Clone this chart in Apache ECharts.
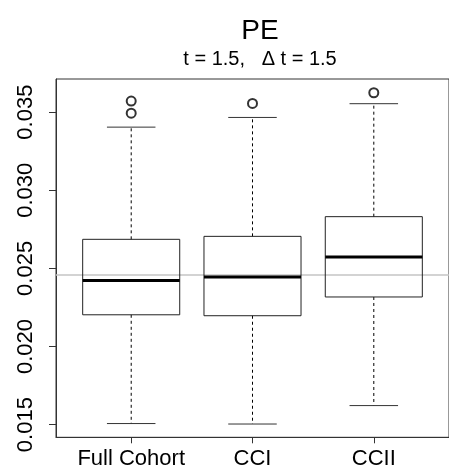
<!DOCTYPE html>
<html><head><meta charset="utf-8">
<script src="https://cdn.jsdelivr.net/npm/echarts@6/dist/echarts.min.js"></script>
<style>html,body{margin:0;padding:0;background:#fff}#c{width:449px;height:474px}</style>
</head><body><div id="c"></div>
<script>
const categories = ['Full Cohort', 'CCI', 'CCII'];
const lowerWhisker = [0.01507, 0.01504, 0.01622];
const q1 = [0.02203, 0.02197, 0.02317];
const median = [0.02423, 0.02445, 0.02573];
const q3 = [0.02686, 0.02705, 0.02831];
const upperWhisker = [0.03404, 0.03466, 0.03554];
const outlierCat = [0, 0, 1, 2];
const outlierVal = [0.03571, 0.03493, 0.03556, 0.03624];
const yTicks = [0.015, 0.020, 0.025, 0.030, 0.035];
const refLine = 0.02458;
const titleText = 'PE';
const subtitleText = 't = 1.5,   \u0394 t = 1.5';

const FONT = "'Liberation Sans', Arial, Helvetica, sans-serif";
const X_MIN = -0.62, X_MAX = 2.62;
const boxData = categories.map((c, i) => [i, lowerWhisker[i], q1[i], median[i], q3[i], upperWhisker[i]]);
const outData = outlierCat.map((c, i) => [c, outlierVal[i]]);

const chart = echarts.init(document.getElementById('c'));
chart.setOption({
  animation: false,
  backgroundColor: '#fff',
  title: [
    {text: titleText, left: 255, top: 12, textAlign: 'center',
     textStyle: {fontFamily: FONT, fontSize: 28, fontWeight: 'normal', color: '#000'}},
    {text: subtitleText, left: 255, top: 44, textAlign: 'center',
     textStyle: {fontFamily: FONT, fontSize: 20, fontWeight: 'normal', color: '#000'}}
  ],
  grid: {left: 56, top: 79, bottom: 36.7, right: -5.5, show: true, borderColor: '#333', borderWidth: 1, backgroundColor: 'transparent'},
  xAxis: {
    type: 'value', min: X_MIN, max: X_MAX,
    splitLine: {show: false},
    axisLine: {show: true, onZero: false, lineStyle: {color: '#333'}},
    axisTick: {show: true, length: 6, customValues: [0, 1, 2], lineStyle: {color: '#333'}},
    axisLabel: {customValues: [0, 1, 2], formatter: v => categories[Math.round(v)] || '',
      margin: 11, fontFamily: FONT, fontSize: 22, color: '#000'}
  },
  yAxis: {
    type: 'value', min: 0.01419, max: 0.03712,
    splitLine: {show: false},
    axisLine: {show: true, onZero: false, lineStyle: {color: '#333'}},
    axisTick: {show: true, length: 7, customValues: yTicks, lineStyle: {color: '#333'}},
    axisLabel: {customValues: yTicks, formatter: v => v.toFixed(3), rotate: 90,
      margin: 19, fontFamily: FONT, fontSize: 22, color: '#000'}
  },
  series: [
    {
      type: 'line', z: 1, silent: true, symbol: 'none',
      data: [[X_MIN, refLine], [X_MAX, refLine]],
      lineStyle: {color: '#c4c4c4', width: 1.5}
    },
    {
      type: 'custom', z: 2,
      data: boxData,
      renderItem: function (params, api) {
        const i = api.value(0);
        const cx = api.coord([i, api.value(3)])[0];
        const x0 = api.coord([i - 0.4, api.value(3)])[0];
        const x1 = api.coord([i + 0.4, api.value(3)])[0];
        const s0 = api.coord([i - 0.2, api.value(3)])[0];
        const s1 = api.coord([i + 0.2, api.value(3)])[0];
        const yLW = api.coord([i, api.value(1)])[1];
        const yQ1 = api.coord([i, api.value(2)])[1];
        const yMed = api.coord([i, api.value(3)])[1];
        const yQ3 = api.coord([i, api.value(4)])[1];
        const yUW = api.coord([i, api.value(5)])[1];
        const dash = {stroke: '#000', lineWidth: 1, lineDash: [3, 3], fill: null};
        const solid = {stroke: '#333', lineWidth: 1, fill: null};
        return {type: 'group', children: [
          {type: 'line', shape: {x1: cx, y1: yQ3, x2: cx, y2: yUW}, style: dash},
          {type: 'line', shape: {x1: cx, y1: yQ1, x2: cx, y2: yLW}, style: dash},
          {type: 'line', shape: {x1: s0, y1: yUW, x2: s1, y2: yUW}, style: solid},
          {type: 'line', shape: {x1: s0, y1: yLW, x2: s1, y2: yLW}, style: solid},
          {type: 'rect', shape: {x: x0, y: yQ3, width: x1 - x0, height: yQ1 - yQ3}, style: {stroke: '#222', lineWidth: 1, fill: null}},
          {type: 'line', shape: {x1: x0, y1: yMed, x2: x1, y2: yMed}, style: {stroke: '#000', lineWidth: 3}}
        ]};
      }
    },
    {
      type: 'scatter', z: 3,
      data: outData,
      symbol: 'emptyCircle', symbolSize: 9,
      itemStyle: {color: '#000', borderColor: '#000', borderWidth: 1}
    }
  ]
});
</script>
</body></html>
